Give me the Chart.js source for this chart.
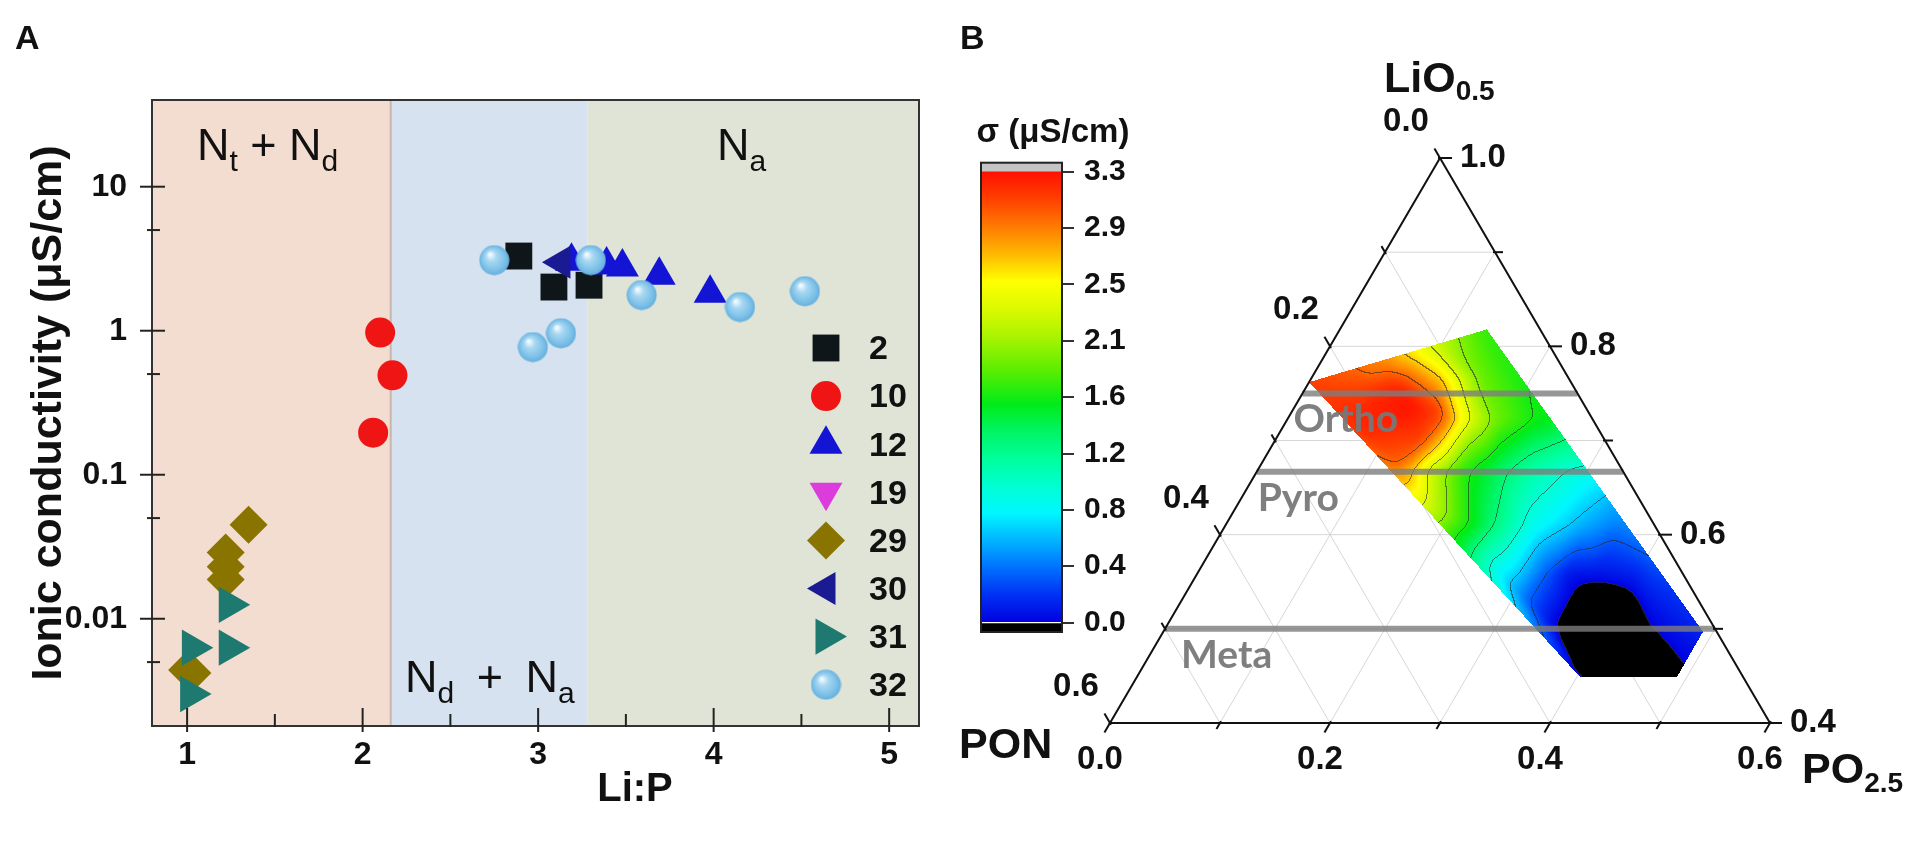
<!DOCTYPE html>
<html>
<head>
<meta charset="utf-8">
<title>Ionic conductivity vs Li:P and ternary conductivity map</title>
<script src="https://cdn.jsdelivr.net/npm/chart.js@4.4.0/dist/chart.umd.min.js"></script>
<style>
  html, body { margin: 0; padding: 0; background: #fff; }
  body { position: relative; width: 1925px; height: 845px; overflow: hidden; }
  canvas { position: absolute; }
  #chartA { left: 0; top: 0; }
  #chartTern { left: 940px; top: 0; }
  #chartBar { left: 960px; top: 100px; }
</style>
</head>
<body>
<canvas id="chartA" width="940" height="845"></canvas>
<canvas id="chartTern" width="985" height="845"></canvas>
<canvas id="chartBar" width="200" height="560"></canvas>
<script>
// ---------- panel A: Li:P ratio vs ionic conductivity (uS/cm) ----------
const SERIES_NAMES = ['2', '10', '12', '19', '29', '30', '31', '32'];
const LIP_2 = [2.89, 3.09, 3.29];
const COND_2 = [3.30, 2.01, 2.07];
const LIP_10 = [2.10, 2.17, 2.06];
const COND_10 = [0.97, 0.49, 0.196];
const LIP_12 = [3.19, 3.39, 3.48, 3.69, 3.98];
const COND_12 = [3.04, 2.86, 2.77, 2.43, 1.82];
const LIP_19 = [];
const COND_19 = [];
const LIP_29 = [1.35, 1.22, 1.22, 1.22, 1.00, 1.03];
const COND_29 = [0.045, 0.0288, 0.0230, 0.0187, 0.0044, 0.0042];
const LIP_30 = [3.13];
const COND_30 = [2.99];
const LIP_31 = [1.24, 1.24, 1.03, 1.02];
const COND_31 = [0.0125, 0.0063, 0.0063, 0.0030];
const LIP_32 = [2.75, 3.30, 3.59, 4.15, 4.52, 2.97, 3.13];
const COND_32 = [3.09, 3.09, 1.77, 1.46, 1.88, 0.77, 0.96];

const REGIME_EDGES = [0.8, 2.16, 3.28, 5.17];
const Y_TICKS = [0.01, 0.1, 1, 10];
const Y_MINOR = [0.005, 0.05, 0.5, 5];
const X_TICKS = [1, 2, 3, 4, 5];
const X_MINOR = [1.5, 2.5, 3.5, 4.5];

// ---------- panel B: ternary LiO0.5 - PO2.5 - PON conductivity map ----------
const LI_MIN = 0.4;                       // LiO0.5 fraction on the bottom edge
const PHASE_NAMES = ['Ortho', 'Pyro', 'Meta'];
const PHASE_LI = [0.75, 0.6667, 0.5];
const REGION_PO = [0.000, 0.1335, 0.4906, 0.491, 0.4027];
const REGION_LI = [0.762, 0.818, 0.497, 0.449, 0.449];
// conductivity at (PO2.5, LiO0.5) compositions
const SAMPLE_PO = [
  0.000, 0.032, 0.055, 0.083, 0.100, 0.121, 0.137,
  0.108, 0.030, 0.060, 0.074, 0.087, 0.050, 0.134, 0.120, 0.150, 0.132,
  0.139, 0.155, 0.173, 0.191, 0.224, 0.240, 0.193,
  0.123, 0.141, 0.159, 0.184, 0.220, 0.250, 0.290,
  0.178, 0.335,
  0.194, 0.217, 0.242, 0.278, 0.324, 0.355,
  0.269, 0.290, 0.320, 0.336, 0.366, 0.395,
  0.310, 0.347, 0.403, 0.396, 0.394, 0.398, 0.469, 0.358, 0.353,
  0.402, 0.439, 0.479, 0.426, 0.478, 0.450, 0.4906, 0.491, 0.440
];
const SAMPLE_LI = [
  0.762, 0.772, 0.786, 0.793, 0.799, 0.807, 0.817,
  0.736, 0.745, 0.720, 0.707, 0.754, 0.757, 0.732, 0.760, 0.770, 0.700,
  0.722, 0.722, 0.722, 0.722, 0.722, 0.722, 0.764,
  0.669, 0.669, 0.669, 0.669, 0.669, 0.669, 0.669,
  0.626, 0.637,
  0.612, 0.612, 0.612, 0.612, 0.612, 0.612,
  0.559, 0.559, 0.559, 0.559, 0.559, 0.573,
  0.530, 0.505, 0.449, 0.499, 0.467, 0.531, 0.462, 0.520, 0.549,
  0.541, 0.504, 0.472, 0.531, 0.499, 0.533, 0.497, 0.449, 0.449
];
const SAMPLE_SIGMA = [
  3.10, 3.00, 2.80, 2.50, 2.20, 1.90, 1.70,
  3.30, 3.15, 3.22, 3.20, 3.25, 3.10, 3.10, 2.75, 1.90, 3.10,
  3.05, 2.60, 2.20, 1.90, 1.65, 1.60, 1.65,
  2.95, 2.65, 2.20, 1.75, 1.40, 1.15, 0.95,
  2.25, 0.62,
  1.95, 1.70, 1.35, 0.90, 0.60, 0.45,
  0.85, 0.70, 0.30, 0.10, 0.08, 0.25,
  0.40, 0.05, 0.10, -0.25, -0.25, -0.15, -0.15, -0.05, 0.00,
  0.00, 0.00, 0.00, 0.10, 0.12, 0.20, 0.15, -0.05, -0.20
];
const TERN_MAJOR = [0, 0.2, 0.4, 0.6];
const TERN_MINOR = [0.1, 0.3, 0.5];
const TERN_GRID = [0.1, 0.2, 0.3, 0.4, 0.5];

const CBAR_MIN = -0.069, CBAR_MAX = 3.366, SIGMA_TOP = 3.3;
const CBAR_TICKS = [0, 0.4125, 0.825, 1.2375, 1.65, 2.0625, 2.475, 2.8875, 3.3];
const CBAR_LABELS = ['0.0', '0.4', '0.8', '1.2', '1.6', '2.1', '2.5', '2.9', '3.3'];
const CMAP_VALUES = [0, 0.2, 0.4, 0.6, 0.8, 1.0, 1.2, 1.4, 1.6, 1.85, 2.1, 2.3, 2.5, 2.7, 2.9, 3.1, 3.3];
const CMAP_COLORS = ['#0000e0', '#0030f4', '#0070ff', '#00b4ff', '#00f6ff', '#00ffd2', '#00ff9c',
  '#00f464', '#00ec18', '#5cee00', '#acf400', '#dcfa00', '#ffff00', '#ffb800', '#ff7a00', '#ff4000', '#ff1000'];
const CONTOUR_STEP = 0.33;

// ---------- styling ----------
const FONT = '"Liberation Sans", Arial, sans-serif';
const INK = '#111';
const REGIME_COLORS = ['#f3ddd0', '#d6e2ef', '#dfe4d6'];

const sphereImg = (function () {
  const d = 31, c = document.createElement('canvas');
  c.width = c.height = d;
  const g = c.getContext('2d'), r = d / 2;
  const grad = g.createRadialGradient(r * 0.72, r * 0.62, 1, r, r, r);
  grad.addColorStop(0, '#f2faff');
  grad.addColorStop(0.3, '#a8d8f2');
  grad.addColorStop(0.75, '#7cc0e8');
  grad.addColorStop(1, '#62aedc');
  g.fillStyle = grad;
  g.beginPath(); g.arc(r, r, r - 0.5, 0, Math.PI * 2); g.fill();
  return c;
})();

const MARKERS = {
  '2':  { style: 'rect',     color: '#0e161a', radius: 19, rotation: 0,   order: 3 },
  '10': { style: 'circle',   color: '#ef1515', radius: 15, rotation: 0,   order: 4 },
  '12': { style: 'triangle', color: '#1414d4', radius: 19, rotation: 0,   order: 2 },
  '19': { style: 'triangle', color: '#dc3cdc', radius: 19, rotation: 180, order: 5 },
  '29': { style: 'rectRot',  color: '#8a7400', radius: 19, rotation: 0,   order: 7 },
  '30': { style: 'triangle', color: '#1a1a92', radius: 19, rotation: 270, order: 1 },
  '31': { style: 'triangle', color: '#1e7a70', radius: 21, rotation: 90,  order: 6 },
  '32': { style: sphereImg,  color: '#80c4ea', radius: 15, rotation: 0,   order: 0 }
};
const SERIES_DATA = {
  '2': [LIP_2, COND_2], '10': [LIP_10, COND_10], '12': [LIP_12, COND_12], '19': [LIP_19, COND_19],
  '29': [LIP_29, COND_29], '30': [LIP_30, COND_30], '31': [LIP_31, COND_31], '32': [LIP_32, COND_32]
};

function drawMarker(ctx, m, x, y) {
  if (m.style instanceof HTMLCanvasElement) {
    ctx.drawImage(m.style, x - m.style.width / 2, y - m.style.height / 2);
    return;
  }
  const r = m.radius;
  ctx.fillStyle = m.color;
  ctx.beginPath();
  if (m.style === 'circle') ctx.arc(x, y, r, 0, Math.PI * 2);
  else if (m.style === 'rect') { const s = r * Math.SQRT1_2; ctx.rect(x - s, y - s, 2 * s, 2 * s); }
  else if (m.style === 'rectRot') { ctx.moveTo(x - r, y); ctx.lineTo(x, y - r); ctx.lineTo(x + r, y); ctx.lineTo(x, y + r); ctx.closePath(); }
  else {
    let t = m.rotation * Math.PI / 180;
    for (let k = 0; k < 3; k++) {
      const px = x + Math.sin(t) * r, py = y - Math.cos(t) * r;
      if (k) ctx.lineTo(px, py); else ctx.moveTo(px, py);
      t += 2 * Math.PI / 3;
    }
    ctx.closePath();
  }
  ctx.fill();
}

// text made of runs: [text, size, baselineShift]
function drawRuns(ctx, runs, x, y, weight) {
  ctx.textAlign = 'left';
  ctx.textBaseline = 'alphabetic';
  for (const [t, size, dy] of runs) {
    ctx.font = `${weight} ${size}px ${FONT}`;
    ctx.fillText(t, x, y + dy);
    x += ctx.measureText(t).width;
  }
}

function line(ctx, x0, y0, x1, y1) {
  ctx.beginPath(); ctx.moveTo(x0, y0); ctx.lineTo(x1, y1); ctx.stroke();
}

// ---------- panel A ----------
const panelAPlugin = {
  id: 'panelA',
  beforeDatasetsDraw(chart) {
    const { ctx, chartArea: ar, scales: { x } } = chart;
    ctx.save();
    for (let i = 0; i < REGIME_COLORS.length; i++) {
      const x0 = x.getPixelForValue(REGIME_EDGES[i]);
      const x1 = x.getPixelForValue(REGIME_EDGES[i + 1]);
      ctx.fillStyle = REGIME_COLORS[i];
      ctx.fillRect(x0, ar.top, x1 - x0, ar.bottom - ar.top);
    }
    ctx.strokeStyle = '#c9b6aa';
    ctx.lineWidth = 2;
    const xb = x.getPixelForValue(REGIME_EDGES[1]);
    line(ctx, xb, ar.top, xb, ar.bottom);
    ctx.restore();
  },
  afterDatasetsDraw(chart) {
    const { ctx, chartArea: ar, scales: { x, y } } = chart;
    ctx.save();
    ctx.strokeStyle = '#333';
    ctx.lineWidth = 2;
    ctx.strokeRect(ar.left, ar.top, ar.right - ar.left, ar.bottom - ar.top);
    ctx.strokeStyle = '#222';
    Y_TICKS.forEach(v => { const p = y.getPixelForValue(v); line(ctx, ar.left - 12, p, ar.left + 13, p); });
    Y_MINOR.forEach(v => { const p = y.getPixelForValue(v); line(ctx, ar.left - 5, p, ar.left + 8, p); });
    X_TICKS.forEach(v => { const p = x.getPixelForValue(v); line(ctx, p, ar.bottom + 6, p, ar.bottom - 18); });
    X_MINOR.forEach(v => { const p = x.getPixelForValue(v); line(ctx, p, ar.bottom + 1, p, ar.bottom - 12); });

    // regime labels
    ctx.fillStyle = INK;
    drawRuns(ctx, [['N', 45, 0], ['t', 30, 11], [' + ', 45, 0], ['N', 45, 0], ['d', 30, 11]], 197, 160, 'normal');
    drawRuns(ctx, [['N', 45, 0], ['a', 30, 11]], 717, 160, 'normal');
    drawRuns(ctx, [['N', 45, 0], ['d', 30, 11], ['\u2002+\u2002', 45, 0], ['N', 45, 0], ['a', 30, 11]], 405, 692, 'normal');

    // axis titles
    ctx.font = `bold 43px ${FONT}`;
    ctx.textAlign = 'center';
    ctx.textBaseline = 'middle';
    ctx.save();
    ctx.translate(49, (ar.top + ar.bottom) / 2);
    ctx.rotate(-Math.PI / 2);
    ctx.fillText('Ionic conductivity (\u03bcS/cm)', 0, 0);
    ctx.restore();
    ctx.font = `bold 40px ${FONT}`;
    ctx.fillText('Li:P', 635, 790);

    // panel letter
    ctx.font = `bold 34px ${FONT}`;
    ctx.textAlign = 'left';
    ctx.textBaseline = 'alphabetic';
    ctx.fillText('A', 15, 49);

    // legend
    ctx.font = `bold 34px ${FONT}`;
    ctx.textBaseline = 'middle';
    SERIES_NAMES.forEach((name, i) => {
      const ly = 348 + i * 48.1;
      drawMarker(ctx, MARKERS[name], 826, ly);
      ctx.fillStyle = INK;
      ctx.fillText(name, 869, ly + 2);
    });
    ctx.restore();
  }
};

new Chart(document.getElementById('chartA'), {
  type: 'scatter',
  data: {
    datasets: SERIES_NAMES.map(name => {
      const m = MARKERS[name];
      const [xs, ys] = SERIES_DATA[name];
      return {
        label: name,
        data: xs.map((v, i) => ({ x: v, y: ys[i] })),
        pointStyle: m.style,
        pointRotation: m.rotation,
        pointRadius: m.radius,
        pointBackgroundColor: m.color,
        pointBorderWidth: 0,
        order: m.order,
        clip: false
      };
    })
  },
  options: {
    responsive: false,
    animation: false,
    devicePixelRatio: 1,
    events: [],
    layout: { padding: { top: 100, right: 18, left: 0, bottom: 0 } },
    plugins: { legend: { display: false }, tooltip: { enabled: false } },
    scales: {
      x: {
        type: 'linear', min: 0.8, max: 5.17,
        afterFit: s => { s.height = 119; },
        afterBuildTicks: s => { s.ticks = X_TICKS.map(v => ({ value: v })); },
        grid: { display: false, drawTicks: false },
        border: { display: false },
        ticks: { color: INK, padding: 10, maxRotation: 0, font: { family: FONT, size: 32, weight: 'bold' }, callback: v => String(v) }
      },
      y: {
        type: 'logarithmic', min: 0.0018, max: 40,
        afterFit: s => { s.width = 152; },
        afterBuildTicks: s => { s.ticks = Y_TICKS.map(v => ({ value: v })); },
        grid: { display: false, drawTicks: false },
        border: { display: false },
        ticks: { color: INK, padding: 25, autoSkip: false, font: { family: FONT, size: 32, weight: 'bold' }, callback: v => String(v) }
      }
    }
  },
  plugins: [panelAPlugin]
});

// ---------- panel B: ternary ----------
const SQ3 = Math.sqrt(3) / 2;
function ternToXY(po, li) { return { x: po + (li - LI_MIN) / 2, y: (li - LI_MIN) * SQ3 }; }

function hexToRgb(h) { return [parseInt(h.slice(1, 3), 16), parseInt(h.slice(3, 5), 16), parseInt(h.slice(5, 7), 16)]; }
const CMAP_RGB = CMAP_COLORS.map(hexToRgb);
function colorFor(v) {
  if (v <= CMAP_VALUES[0]) return CMAP_RGB[0];
  for (let k = 1; k < CMAP_VALUES.length; k++) {
    if (v <= CMAP_VALUES[k]) {
      const t = (v - CMAP_VALUES[k - 1]) / (CMAP_VALUES[k] - CMAP_VALUES[k - 1]);
      const c0 = CMAP_RGB[k - 1], c1 = CMAP_RGB[k];
      return [c0[0] + (c1[0] - c0[0]) * t, c0[1] + (c1[1] - c0[1]) * t, c0[2] + (c1[2] - c0[2]) * t];
    }
  }
  return CMAP_RGB[CMAP_RGB.length - 1];
}

const samplePts = SAMPLE_PO.map((po, i) => Object.assign(ternToXY(po, SAMPLE_LI[i]), { v: SAMPLE_SIGMA[i] }));

// Delaunay triangulation (Bowyer-Watson) of the read-off samples, linear inside each triangle
function triangulate(P) {
  const n = P.length;
  const xs = P.map(p => p.x), ys = P.map(p => p.y);
  const mx = (Math.min(...xs) + Math.max(...xs)) / 2, my = (Math.min(...ys) + Math.max(...ys)) / 2;
  const dm = Math.max(Math.max(...xs) - Math.min(...xs), Math.max(...ys) - Math.min(...ys));
  const pts = P.concat([{ x: mx - 20 * dm, y: my - dm }, { x: mx, y: my + 20 * dm }, { x: mx + 20 * dm, y: my - dm }]);
  const circ = t => {
    const a = pts[t[0]], b = pts[t[1]], c = pts[t[2]];
    const d = 2 * (a.x * (b.y - c.y) + b.x * (c.y - a.y) + c.x * (a.y - b.y));
    const a2 = a.x * a.x + a.y * a.y, b2 = b.x * b.x + b.y * b.y, c2 = c.x * c.x + c.y * c.y;
    const ux = (a2 * (b.y - c.y) + b2 * (c.y - a.y) + c2 * (a.y - b.y)) / d;
    const uy = (a2 * (c.x - b.x) + b2 * (a.x - c.x) + c2 * (b.x - a.x)) / d;
    return { x: ux, y: uy, r2: (a.x - ux) ** 2 + (a.y - uy) ** 2 };
  };
  let tris = [{ v: [n, n + 1, n + 2] }];
  tris[0].c = circ(tris[0].v);
  for (let i = 0; i < n; i++) {
    const p = pts[i], bad = [], good = [];
    for (const t of tris) ((p.x - t.c.x) ** 2 + (p.y - t.c.y) ** 2 < t.c.r2 ? bad : good).push(t);
    const edges = [];
    for (const t of bad) {
      for (const [a, b] of [[t.v[0], t.v[1]], [t.v[1], t.v[2]], [t.v[2], t.v[0]]]) {
        const k = edges.findIndex(e => (e[0] === b && e[1] === a) || (e[0] === a && e[1] === b));
        if (k >= 0) edges.splice(k, 1); else edges.push([a, b]);
      }
    }
    tris = good;
    for (const [a, b] of edges) { const t = { v: [a, b, i] }; t.c = circ(t.v); tris.push(t); }
  }
  return tris.filter(t => t.v.every(k => k < n)).map(t => {
    const [p1, p2, p3] = t.v.map(k => P[k]);
    const det = (p2.y - p3.y) * (p1.x - p3.x) + (p3.x - p2.x) * (p1.y - p3.y);
    return { p1, p2, p3, det };
  });
}
const TRIS = triangulate(samplePts);

function sigmaIDW(x, y) {
  let num = 0, den = 0;
  for (const s of samplePts) {
    const d2 = (x - s.x) ** 2 + (y - s.y) ** 2;
    if (d2 < 1e-12) return s.v;
    const w = 1 / (d2 * d2);
    num += w * s.v; den += w;
  }
  return num / den;
}
let lastTri = 0;
function sigmaAt(x, y) {
  for (let q = 0; q < TRIS.length; q++) {
    const t = TRIS[(lastTri + q) % TRIS.length];
    const { p1, p2, p3, det } = t;
    const l1 = ((p2.y - p3.y) * (x - p3.x) + (p3.x - p2.x) * (y - p3.y)) / det;
    const l2 = ((p3.y - p1.y) * (x - p3.x) + (p1.x - p3.x) * (y - p3.y)) / det;
    const l3 = 1 - l1 - l2;
    if (l1 >= -1e-9 && l2 >= -1e-9 && l3 >= -1e-9) {
      lastTri = (lastTri + q) % TRIS.length;
      return l1 * p1.v + l2 * p2.v + l3 * p3.v;
    }
  }
  return sigmaIDW(x, y);
}

const regionXY = REGION_PO.map((po, i) => ternToXY(po, REGION_LI[i]));
function insideRegion(x, y) {
  let inside = false;
  for (let i = 0, j = regionXY.length - 1; i < regionXY.length; j = i++) {
    const a = regionXY[i], b = regionXY[j];
    if ((a.y > y) !== (b.y > y) && x < (b.x - a.x) * (y - a.y) / (b.y - a.y) + a.x) inside = !inside;
  }
  return inside;
}

function blurPass(src, W, H, ker, R, horizontal) {
  const out = new Float32Array(W * H);
  for (let j = 0; j < H; j++) {
    for (let i = 0; i < W; i++) {
      let s = 0;
      for (let k = -R; k <= R; k++) {
        const ii = horizontal ? i + k : i, jj = horizontal ? j : j + k;
        if (ii < 0 || ii >= W || jj < 0 || jj >= H) continue;
        s += ker[k + R] * src[jj * W + ii];
      }
      out[j * W + i] = s;
    }
  }
  return out;
}

const ternPlugin = {
  id: 'ternary',
  beforeDatasetsDraw(chart) {
    const { ctx, scales: { x: xs, y: ys } } = chart;
    const px = (po, li) => { const p = ternToXY(po, li); return { x: xs.getPixelForValue(p.x), y: ys.getPixelForValue(p.y) }; };
    ctx.save();
    // grid
    ctx.strokeStyle = '#d6d6d6';
    ctx.lineWidth = 1;
    TERN_GRID.forEach(v => {
      let p = px(v, LI_MIN), q = px(v, 1 - v); line(ctx, p.x, p.y, q.x, q.y);
      p = px(0, 1 - v); q = px(0.6 - v, LI_MIN); line(ctx, p.x, p.y, q.x, q.y);
      p = px(0, LI_MIN + v); q = px(0.6 - v, LI_MIN + v); line(ctx, p.x, p.y, q.x, q.y);
    });
    // conductivity field
    const pp = regionXY.map(p => ({ x: xs.getPixelForValue(p.x), y: ys.getPixelForValue(p.y) }));
    const x0 = Math.floor(Math.min(...pp.map(p => p.x))), x1 = Math.ceil(Math.max(...pp.map(p => p.x)));
    const y0 = Math.floor(Math.min(...pp.map(p => p.y))), y1 = Math.ceil(Math.max(...pp.map(p => p.y)));
    const W = x1 - x0 + 1, H = y1 - y0 + 1;
    const mask = new Float32Array(W * H), raw = new Float32Array(W * H);
    for (let j = 0; j < H; j++) {
      const dy = ys.getValueForPixel(y0 + j + 0.5);
      for (let i = 0; i < W; i++) {
        const dx = xs.getValueForPixel(x0 + i + 0.5);
        if (insideRegion(dx, dy)) { mask[j * W + i] = 1; raw[j * W + i] = sigmaAt(dx, dy); }
      }
    }
    const sig = 5, R = 13, ker = [];
    for (let k = -R; k <= R; k++) ker.push(Math.exp(-k * k / (2 * sig * sig)));
    const sv = blurPass(blurPass(raw, W, H, ker, R, true), W, H, ker, R, false);
    const sm = blurPass(blurPass(mask, W, H, ker, R, true), W, H, ker, R, false);
    const vals = new Float32Array(W * H).fill(NaN);
    for (let k = 0; k < W * H; k++) if (mask[k]) vals[k] = sv[k] / sm[k];

    const off = document.createElement('canvas');
    off.width = W; off.height = H;
    const octx = off.getContext('2d');
    const img = octx.createImageData(W, H);
    const lvl = v => (v < 0 ? -1 : Math.floor(v / CONTOUR_STEP));
    for (let j = 0; j < H; j++) {
      for (let i = 0; i < W; i++) {
        const k = j * W + i, v = vals[k];
        if (Number.isNaN(v)) continue;
        let c = v < 0 ? [0, 0, 0] : colorFor(v);
        const L = lvl(v);
        const r = i + 1 < W ? vals[k + 1] : NaN, d = j + 1 < H ? vals[k + W] : NaN;
        if ((!Number.isNaN(r) && lvl(r) !== L) || (!Number.isNaN(d) && lvl(d) !== L)) {
          c = [c[0] * 0.4 + 25, c[1] * 0.4 + 25, c[2] * 0.4 + 25];
        }
        img.data[4 * k] = c[0]; img.data[4 * k + 1] = c[1]; img.data[4 * k + 2] = c[2]; img.data[4 * k + 3] = 255;
      }
    }
    octx.putImageData(img, 0, 0);
    ctx.drawImage(off, x0, y0);
    ctx.restore();
  },
  afterDatasetsDraw(chart) {
    const { ctx, scales: { x: xs, y: ys } } = chart;
    const px = (po, li) => { const p = ternToXY(po, li); return { x: xs.getPixelForValue(p.x), y: ys.getPixelForValue(p.y) }; };
    const unit = (p, q) => { const dx = q.x - p.x, dy = q.y - p.y, L = Math.hypot(dx, dy); return { x: dx / L, y: dy / L }; };
    ctx.save();
    ctx.strokeStyle = '#111';
    ctx.lineWidth = 2;
    const tick = (p, d, len) => line(ctx, p.x - d.x * 2, p.y - d.y * 2, p.x + d.x * len, p.y + d.y * len);
    TERN_MAJOR.concat(TERN_MINOR).forEach(v => {
      const len = TERN_MAJOR.includes(v) ? 11 : 7;
      // PO2.5 along the bottom
      let p = px(v, LI_MIN); tick(p, unit(px(v, LI_MIN + 0.1), p), len);
      // PON along the left
      p = px(0, 1 - v); tick(p, unit(px(0.1, 0.9 - v), p), len);
      // LiO0.5 along the right
      const li = LI_MIN + v;
      p = px(1 - li, li); tick(p, unit(px(0.9 - li, li), p), len + 1);
    });
    ctx.fillStyle = INK;
    ctx.font = `bold 33px ${FONT}`;
    ctx.textBaseline = 'middle';
    ctx.textAlign = 'center';
    TERN_MAJOR.forEach(v => {
      let p = px(v, LI_MIN);
      ctx.fillText(v.toFixed(1), p.x - 10, p.y + 37);
      p = px(0, 1 - v);
      ctx.fillText(v.toFixed(1), p.x - 34, p.y - 36);
    });
    ctx.textAlign = 'left';
    TERN_MAJOR.forEach(v => {
      const li = LI_MIN + v, p = px(1 - li, li);
      ctx.fillText(li.toFixed(1), p.x + 20, p.y);
    });
    // phase labels
    ctx.fillStyle = 'rgba(120,120,120,0.95)';
    ctx.font = 'bold 39px Lato, "Open Sans", sans-serif';
    ctx.textBaseline = 'alphabetic';
    const dxs = [-9, 1, 16];
    PHASE_NAMES.forEach((name, i) => {
      const p = px(0, PHASE_LI[i]);
      ctx.fillText(name, p.x + dxs[i], p.y + 39);
    });
    // component titles
    ctx.fillStyle = INK;
    drawRuns(ctx, [['LiO', 43, 0], ['0.5', 28, 8]], 444, 92, 'bold');
    drawRuns(ctx, [['PON', 43, 0]], 19, 758, 'bold');
    drawRuns(ctx, [['PO', 43, 0], ['2.5', 28, 9]], 862, 783, 'bold');
    drawRuns(ctx, [['B', 34, 0]], 20, 49, 'bold');
    ctx.restore();
  }
};

const phaseSets = PHASE_LI.map(li => ({
  data: [ternToXY(0, li), ternToXY(1 - li, li)],
  showLine: true, borderColor: 'rgba(125,125,125,0.8)', borderWidth: 6, pointRadius: 0, clip: false, borderCapStyle: 'butt'
}));

new Chart(document.getElementById('chartTern'), {
  type: 'scatter',
  data: {
    datasets: [{
      data: [ternToXY(0, 1), ternToXY(0.6, LI_MIN), ternToXY(0, LI_MIN), ternToXY(0, 1)],
      showLine: true, borderColor: '#111', borderWidth: 2, pointRadius: 0, clip: false, borderJoinStyle: 'miter'
    }].concat(phaseSets)
  },
  options: {
    responsive: false,
    animation: false,
    devicePixelRatio: 1,
    events: [],
    layout: { padding: { left: 170, right: 155, top: 158, bottom: 122 } },
    plugins: { legend: { display: false }, tooltip: { enabled: false } },
    scales: {
      x: { type: 'linear', min: 0, max: 0.6, display: false },
      y: { type: 'linear', min: 0, max: 0.6 * SQ3, display: false }
    }
  },
  plugins: [ternPlugin]
});

// ---------- colour scale ----------
const cbarPlugin = {
  id: 'cbar',
  afterDatasetsDraw(chart) {
    const { ctx, chartArea: ar } = chart;
    ctx.save();
    ctx.strokeStyle = '#222';
    ctx.lineWidth = 2;
    ctx.strokeRect(ar.left, ar.top, ar.right - ar.left, ar.bottom - ar.top);
    ctx.fillStyle = INK;
    ctx.font = `bold 33px ${FONT}`;
    ctx.textAlign = 'center';
    ctx.textBaseline = 'middle';
    ctx.fillText('\u03c3 (\u03bcS/cm)', 93, 33);
    ctx.restore();
  }
};

new Chart(document.getElementById('chartBar'), {
  type: 'bar',
  data: {
    labels: ['sigma'],
    datasets: [
      { data: [[CBAR_MIN, 0]], backgroundColor: '#000' },
      {
        data: [[0, SIGMA_TOP]],
        backgroundColor: c => {
          const ys = c.chart.scales.y;
          if (!ys || !c.chart.chartArea) return CMAP_COLORS[0];
          const g = c.chart.ctx.createLinearGradient(0, ys.getPixelForValue(0), 0, ys.getPixelForValue(SIGMA_TOP));
          CMAP_VALUES.forEach((v, i) => g.addColorStop(v / SIGMA_TOP, CMAP_COLORS[i]));
          return g;
        }
      },
      { data: [[SIGMA_TOP, CBAR_MAX]], backgroundColor: '#c4c4c4' }
    ]
  },
  options: {
    responsive: false,
    animation: false,
    devicePixelRatio: 1,
    events: [],
    layout: { padding: { left: 21, top: 62.7, bottom: 26, right: 0 } },
    plugins: { legend: { display: false }, tooltip: { enabled: false } },
    datasets: { bar: { barPercentage: 1, categoryPercentage: 1, borderWidth: 0, grouped: false } },
    scales: {
      x: { display: false },
      y: {
        position: 'right', min: CBAR_MIN, max: CBAR_MAX,
        afterFit: s => { s.width = 98; },
        afterBuildTicks: s => { s.ticks = CBAR_TICKS.map(v => ({ value: v })); },
        grid: { drawOnChartArea: false, drawTicks: true, tickLength: 12, lineWidth: 2, color: '#333' },
        border: { display: false },
        ticks: { color: INK, padding: 10, autoSkip: false, font: { family: FONT, size: 30, weight: 'bold' }, callback: (v, i) => CBAR_LABELS[i] }
      }
    }
  },
  plugins: [cbarPlugin]
});
</script>
</body>
</html>
